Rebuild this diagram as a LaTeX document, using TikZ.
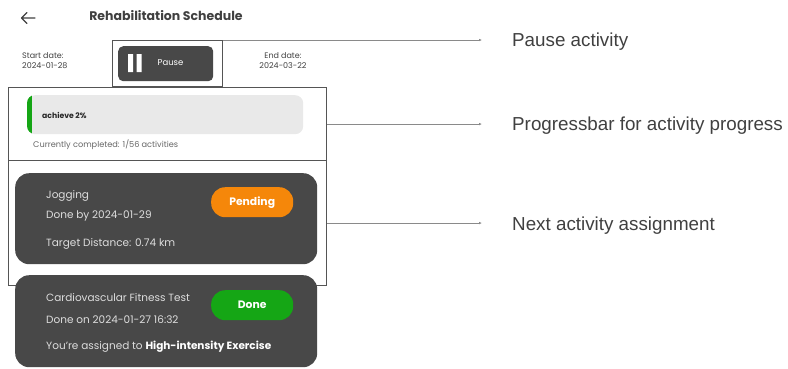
\documentclass[tikz,border=0pt]{standalone}
\usepackage{fontspec}
\setmainfont{Poppins}
\newfontfamily\notefont{Liberation Sans}
\usetikzlibrary{arrows.meta,calc}

\definecolor{cardgray}{HTML}{484848}
\definecolor{framegray}{HTML}{555555}
\definecolor{bargray}{HTML}{E9E9E9}
\definecolor{okgreen}{HTML}{15A615}
\definecolor{pendorange}{HTML}{F5870A}
\definecolor{notegray}{HTML}{404040}
\definecolor{cardtext}{HTML}{DDDDDD}
\definecolor{linegray}{HTML}{8A8A8A}

\tikzset{
  frame/.style={draw=framegray, line width=1.1pt, anchor=north west, inner sep=0pt},
  card/.style={fill=cardgray, rounded corners=14pt, anchor=north west, inner sep=0pt},
  pill/.style={rounded corners=14pt, anchor=north west, inner sep=0pt, minimum width=82pt, minimum height=30pt},
  pilltext/.style={text=white, font=\bfseries\fontsize{10.8}{12}\selectfont},
  cardline/.style={anchor=west, inner sep=0pt, text=cardtext, font=\fontsize{10.5}{12}\selectfont},
  small/.style={inner sep=0pt, text=notegray, font=\fontsize{8}{9}\selectfont},
  note/.style={anchor=west, inner sep=0pt, text=notegray, font=\notefont\fontsize{18.8}{21}\selectfont},
  pointer/.style={draw=linegray, line width=0.7pt, -{Latex[length=3pt,width=2.6pt]}, shorten >=30pt},
}

\begin{document}
\begin{tikzpicture}[x=1pt, y=-1pt]
\useasboundingbox (0,0) rectangle (788,368);

% header
\draw[line width=1.3pt, color=notegray, line cap=round, line join=round]
  (27,12.5) -- (21.5,18) -- (27,23.5) (21.5,18) -- (35,18);
\node[inner sep=0pt, text=notegray, font=\bfseries\fontsize{12.5}{14}\selectfont] (title) at (166,15.5) {Rehabilitation Schedule};

% start and end dates
\node[small, align=left, anchor=north west] (start) at (22,52) {Start date:\\[1pt]2024-01-28};
\node[small, align=center, anchor=north] (end) at (283,52) {End date:\\[1pt]2024-03-22};

% pause button
\node[fill=cardgray, rounded corners=5pt, anchor=north west, inner sep=0pt, minimum width=95pt, minimum height=35pt] (pausebtn) at (118,46) {};
\fill[white] (128,54) rectangle (133,72) (136.5,54) rectangle (141.5,72);
\node[inner sep=0pt, text=white, font=\fontsize{8.5}{9}\selectfont] (pausetxt) at (170.5,62.5) {Pause};
\node[frame, minimum width=110pt, minimum height=46pt] (pf) at (112,40) {};

% progress bar
\node[fill=bargray, rounded corners=8pt, anchor=north west, inner sep=0pt, minimum width=276pt, minimum height=39pt] (bar) at (27,95) {};
\begin{scope}
  \clip[rounded corners=8pt] (27,95) rectangle (303,134);
  \fill[okgreen] (27,95) rectangle (32,134);
\end{scope}
\node[inner sep=0pt, anchor=west, text=black!85, font=\bfseries\fontsize{7.7}{9}\selectfont] (ach) at (42,115.5) {achieve 2\%};
\node[small, anchor=west, text=black!60, font=\fontsize{8.2}{9}\selectfont] (done) at (33,144.5) {Currently completed: 1/56 activities};
\node[frame, minimum width=318pt, minimum height=73pt] (pg) at (8,87) {};

% next activity frame
\node[frame, minimum width=318pt, minimum height=125pt] (nf) at (8,160) {};

% jogging card
\node[card, minimum width=302pt, minimum height=91pt] (jog) at (15,173) {};
\node[cardline] (j1) at (46,196) {Jogging};
\node[cardline] (j2) at (46,216) {Done by 2024-01-29};
\node[cardline] (j3) at (46,244) {Target Distance: 0.74 km};
\node[pill, fill=pendorange] (pend) at (211,187) {};
\node[pilltext] at (pend.center) {Pending};

% fitness test card
\node[card, minimum width=302pt, minimum height=92pt] (fit) at (15,275) {};
\node[cardline] (f1) at (46,298) {Cardiovascular Fitness Test};
\node[cardline] (f2) at (46,320) {Done on 2024-01-27 16:32};
\node[cardline] (f3) at (46,347) {You're assigned to \textbf{\color{white}High-intensity Exercise}};
\node[pill, fill=okgreen] (okp) at (211,290) {};
\node[pilltext] at (okp.center) {Done};

% annotations
\node[note] (n1) at (512,41.5) {Pause activity};
\node[note] (n2) at (512,125.5) {Progressbar for activity progress};
\node[note] (n3) at (512,225.5) {Next activity assignment};

\draw[pointer] (pf.north east) -- (pf.north east -| n1.west);
\draw[pointer] (pg.east) -- (pg.east -| n2.west);
\draw[pointer] (nf.east) -- (nf.east -| n3.west);
\end{tikzpicture}
\end{document}
